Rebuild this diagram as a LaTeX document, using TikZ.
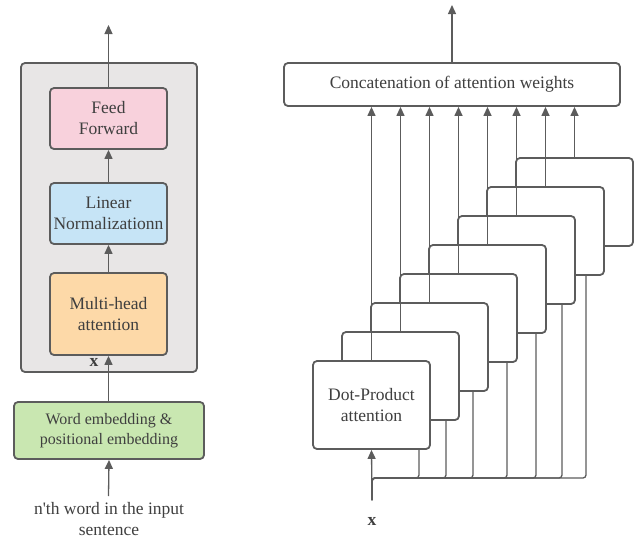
\documentclass[tikz,border=0pt]{standalone}
\usepackage{fontspec}
\setmainfont{Liberation Serif}
\newfontfamily\plainserif{Liberation Serif}
\usetikzlibrary{arrows.meta}
\definecolor{ln}{HTML}{5C5C5C}
\definecolor{tx}{HTML}{3F3F3F}
\definecolor{outerfill}{HTML}{E8E6E6}
\definecolor{ffill}{HTML}{F8D1DC}
\definecolor{lnfill}{HTML}{C6E4F6}
\definecolor{mhfill}{HTML}{FDD9A8}
\definecolor{wefill}{HTML}{C9E7B1}
\begin{document}
\begin{tikzpicture}[x=1pt,y=-1pt,
  box/.style={draw=ln, line width=1.8pt, rounded corners=4pt, inner sep=0pt,
    align=center, text=tx, font=\fontsize{17.5}{21}\selectfont},
  txt/.style={inner sep=0pt, align=center, text=tx, font=\fontsize{17.5}{21}\selectfont},
  conn/.style={draw=ln, line width=1.3pt, -{Triangle[length=9pt,width=8pt]}},
  plain/.style={draw=ln, line width=1.3pt, rounded corners=3pt}]
\useasboundingbox (0,0) rectangle (640,541);

% ---------- left ----------
\node[box, fill=outerfill, minimum width=176pt, minimum height=309pt] (outer) at (109,217.5) {};
\node[box, fill=ffill, minimum width=117pt, minimum height=61pt] (ff) at (108.5,118.5) {Feed\\Forward};
\node[box, fill=lnfill, minimum width=117pt, minimum height=61pt] (lnorm) at (108.5,213.5) {Linear\\Normalizationn};
\node[box, fill=mhfill, minimum width=117pt, minimum height=82pt] (mh) at (108.5,314) {Multi-head\\attention};
\node[box, fill=wefill, minimum width=190pt, minimum height=57pt, font=\fontsize{16}{20}\selectfont] (we) at (109,430.5) {Word embedding \&\\positional embedding};
\node[txt, font=\plainserif\fontsize{17.5}{21}\selectfont] (inp) at (109,519) {n'th word in the input\\sentence};
\node[txt, font=\fontsize{17.5}{21}\selectfont\bfseries] (xl) at (94,362) {x};
\coordinate (ltop) at (108.5,25);
\coordinate (inbot) at (108.5,496);

\draw[conn] (ff.north) -- (ltop);
\draw[conn] (lnorm.north) -- (ff.south);
\draw[conn] (mh.north) -- (lnorm.south);
\draw[conn] (we.north -| mh.south) -- (mh.south);
\draw[conn] (inbot) -- (we.south);

% ---------- right ----------
\node[box, fill=white, minimum width=336pt, minimum height=43pt] (concat) at (452,84.5) {Concatenation of attention weights};
\coordinate (rtop) at (452,5);
\draw[conn] (concat.north) -- (rtop);

\foreach \i in {7,6,...,1}
  \node[box, fill=white, minimum width=117pt, minimum height=88pt] (s\i) at ({371.5+29*\i},{405-29*\i}) {};
\node[box, fill=white, minimum width=117pt, minimum height=88pt] (s0) at (371.5,405) {Dot-Product\\attention};

\foreach \i in {0,...,7}
  \draw[conn] (s\i.north) -- (s\i.north |- concat.south);

\node[txt, font=\fontsize{17.5}{21}\selectfont\bfseries] (xr) at (372,521) {x};
\coordinate (xin) at (372,500);
\draw[conn] (xin) -- (s0.south);
\foreach \i/\xx in {0/419,1/446,2/473,3/507,4/536,5/562,6/586}
  \draw[plain] (xin) -- (372,478) -- (\xx,478) -- (\xx,478 |- s\i.south);
\end{tikzpicture}
\end{document}
